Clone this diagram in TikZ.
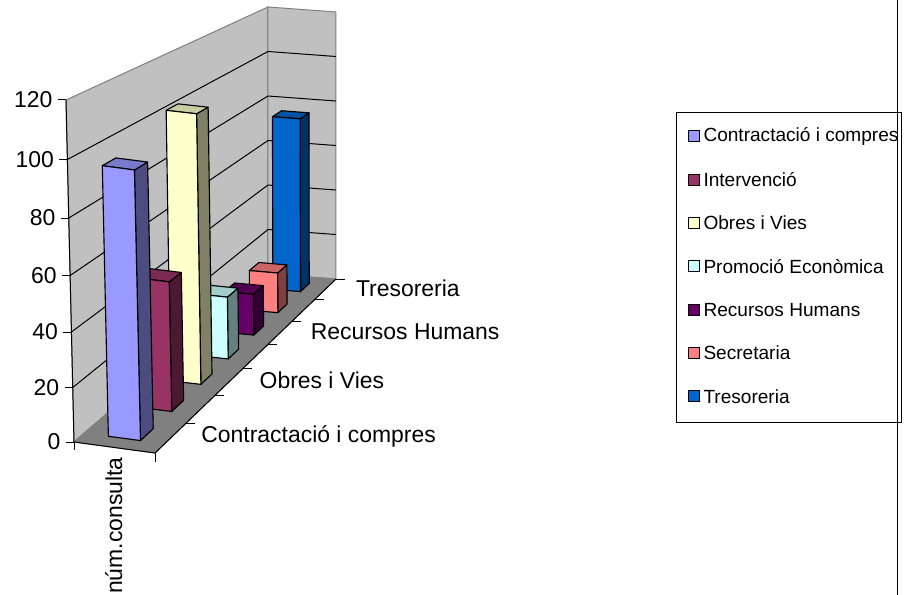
\documentclass[tikz,border=0pt]{standalone}
\usepackage{fontspec}
\setmainfont{Liberation Sans}
\usepackage{tikz}

\definecolor{wallgray}{RGB}{192,192,192}
\definecolor{floorgray}{RGB}{128,128,128}
\definecolor{cContr}{RGB}{153,153,255}
\definecolor{cInterv}{RGB}{153,51,102}
\definecolor{cObres}{RGB}{255,255,204}
\definecolor{cPromo}{RGB}{204,255,255}
\definecolor{cRecur}{RGB}{102,0,102}
\definecolor{cSecre}{RGB}{255,128,128}
\definecolor{cTreso}{RGB}{0,102,204}

\newcommand{\chpt}[4]{%
  \pgfmathsetmacro{\chF}{((#3)/(1+0.035714*(#3)))*1.25/7}%
  \pgfmathsetmacro{\chT}{(#4)/120}%
  \pgfmathsetmacro{\chG}{\chT-0.0529*\chT*(1-\chT)*(1-\chF)}%
  \pgfmathsetmacro{\chX}{(74+81*(#2)-8*\chG)*(1-\chF)+(268+68*(#2))*\chF}%
  \pgfmathsetmacro{\chY}{(442+11*(#2)-342*\chG)*(1-\chF)+(274+5*(#2)-267*\chG)*\chF}%
  \coordinate (#1) at (\chX,\chY);%
}
\newcommand{\bigfont}{\fontsize{17.2}{19}\selectfont}
\newcommand{\legfont}{\fontsize{14.3}{16}\selectfont}

\begin{document}
\begin{tikzpicture}[x=0.75pt,y=-0.75pt,line width=0.75pt,
  wall/.style={draw=gray,fill=wallgray},
  bar/.style={draw=black,line width=0.85pt,line join=round}]
\useasboundingbox (0,0) rectangle (906,595);

\chpt{w0}{0}{0}{0}
\chpt{w1}{0}{0}{120}
\chpt{w2}{0}{7}{120}
\chpt{w3}{0}{7}{0}
\chpt{w4}{1}{7}{120}
\chpt{w5}{1}{7}{0}
\chpt{w6}{1}{0}{0}
\path [wall] (w0) -- (w1) -- (w2) -- (w3) -- cycle;
\path [wall] (w3) -- (w2) -- (w4) -- (w5) -- cycle;
\path [draw=gray,fill=floorgray] (w0) -- (w6) -- (w5) -- (w3) -- cycle;

\foreach \v in {20,40,...,100} {
  \chpt{ga}{0}{0}{\v}
  \chpt{gb}{0}{7}{\v}
  \chpt{gc}{1}{7}{\v}
  \draw (ga) -- (gb) -- (gc);
}

\draw (w0) -- (w1);
\foreach \v in {0,20,...,120} {
  \chpt{t}{0}{0}{\v}
  \draw (t) -- ++(-8,0) node [anchor=east,inner sep=0,xshift=-3.75pt,font=\bigfont] {\v};
}
\draw (w0) -- (w6);
\draw (w0) -- ++(0,8);
\draw (w6) -- ++(0,9);
\draw (w6) -- (w5);
\foreach \k in {1,...,7} {
  \chpt{t}{1}{\k}{0}
  \draw (t) -- ++(9,0);
}
\foreach \k/\txt in {0.5/Contractació i compres,2.5/Obres i Vies,4.5/Recursos Humans,6.5/Tresoreria} {
  \chpt{t}{1}{\k}{0}
  \path (t) ++(30,-1) node [anchor=west,inner sep=0,font=\bigfont] {\txt};
}
\node [rotate=90,anchor=base east,inner sep=0,font=\bigfont] (cat) at (122,457) {núm.consulta};

\foreach \k/\val/\col in {6/76/cTreso,5/17/cSecre,4/17/cRecur,3/25/cPromo,2/104/cObres,1/49/cInterv,0/97/cContr} {
  \chpt{a}{0.3}{\k+0.3}{0}
  \chpt{b}{0.7}{\k+0.3}{0}
  \chpt{c}{0.7}{\k+0.3}{\val}
  \chpt{d}{0.3}{\k+0.3}{\val}
  \chpt{e}{0.3}{\k+0.7}{\val}
  \chpt{f}{0.7}{\k+0.7}{\val}
  \chpt{g}{0.7}{\k+0.7}{0}
  \path [bar,fill=\col!50!black] (b) -- (g) -- (f) -- (c) -- cycle;
  \path [bar,fill=\col!80!black] (d) -- (c) -- (f) -- (e) -- cycle;
  \path [bar,fill=\col] (a) -- (b) -- (c) -- (d) -- cycle;
}

\draw (676,113) rectangle (901,422);
\foreach \i/\col/\txt in {0/cContr/Contractació i compres,1/cInterv/Intervenció,2/cObres/Obres i Vies,3/cPromo/Promoció Econòmica,4/cRecur/Recursos Humans,5/cSecre/Secretaria,6/cTreso/Tresoreria} {
  \draw [fill=\col] (688,{131+43.33*\i}) rectangle ++(11,11);
  \node [anchor=west,inner sep=0,font=\legfont] at (703,{136.5+43.33*\i}) {\txt};
}
\draw (897,0) -- (897,595);
\end{tikzpicture}
\end{document}
